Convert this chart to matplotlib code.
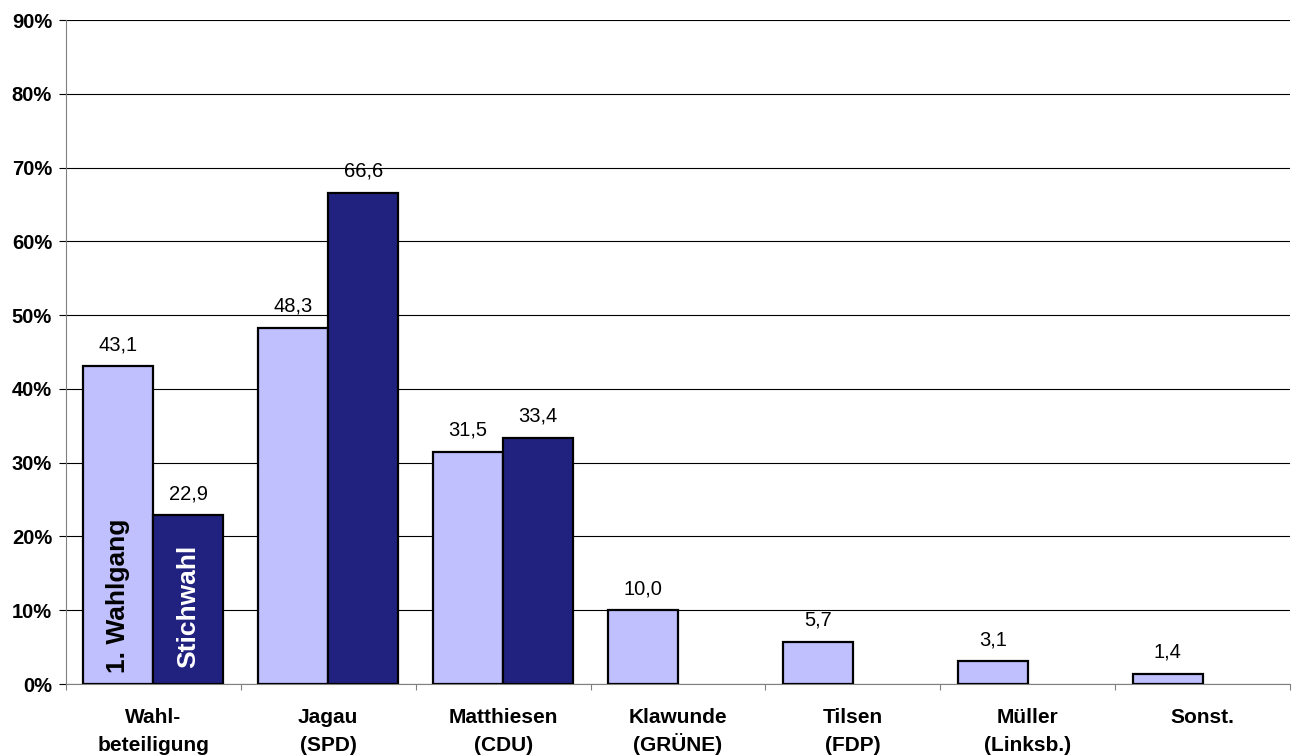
import numpy as np
import matplotlib
matplotlib.use("Agg")
import matplotlib.pyplot as plt

plt.rcParams['font.family'] = ['Liberation Sans', 'DejaVu Sans']

# data
categories = ["Wahl-\nbeteiligung", "Jagau\n(SPD)", "Matthiesen\n(CDU)", "Klawunde\n(GRÜNE)",
              "Tilsen\n(FDP)", "Müller\n(Linksb.)", "Sonst."]
wahlgang1 = [43.1, 48.3, 31.5, 10.0, 5.7, 3.1, 1.4]
stichwahl = [22.9, 66.6, 33.4, None, None, None, None]
yticks = np.arange(0, 91, 10)

light = "#C0C0FF"
dark = "#212180"

fig = plt.figure(figsize=(12.93, 7.56), dpi=100)
ax = fig.add_axes([66 / 1293, 72 / 756, (1290 - 66) / 1293, 664 / 756])

x = np.arange(len(categories))
w = 0.4

ax.bar(x - w / 2, wahlgang1, width=w, color=light, edgecolor="black", linewidth=1.6, zorder=3)
sx = [xi for xi, v in zip(x, stichwahl) if v is not None]
sv = [v for v in stichwahl if v is not None]
ax.bar(np.array(sx) + w / 2, sv, width=w, color=dark, edgecolor="black", linewidth=1.6, zorder=3)

def fmt(v):
    return f"{v:.1f}".replace(".", ",")

for xi, v in zip(x, wahlgang1):
    ax.annotate(fmt(v), (xi - w / 2, v), xytext=(0, 11.5), textcoords="offset points",
                ha="center", va="baseline", fontsize=14.5)
for xi, v in zip(sx, sv):
    ax.annotate(fmt(v), (xi + w / 2, v), xytext=(0, 11.5), textcoords="offset points",
                ha="center", va="baseline", fontsize=14.5)

# series names inside first bars
ax.text(0 - w / 2, 1.5, "1. Wahlgang", rotation=90, ha="center", va="bottom",
        fontsize=19, fontweight="bold", color="black", zorder=4)
ax.text(0 + w / 2, 2.2, "Stichwahl", rotation=90, ha="center", va="bottom",
        fontsize=19, fontweight="bold", color="white", zorder=4)

# category labels, one text per line so line spacing stays even
for xi, cat in zip(x, categories):
    for k, line in enumerate(cat.split("\n")):
        ax.annotate(line, (xi, 0), xycoords=("data", "axes fraction"),
                    xytext=(0, -28 - 20.2 * k), textcoords="offset points",
                    ha="center", va="baseline", fontsize=15, fontweight="bold",
                    annotation_clip=False)

ax.set_xlim(-0.5, len(categories) - 0.5)
ax.set_ylim(0, 90)
ax.set_yticks(yticks)
ax.set_yticklabels([f"{t}%" for t in yticks], fontsize=14.5, fontweight="bold")
ax.set_xticks([])
ax.set_xticks(np.arange(-0.5, len(categories)), minor=True)
ax.tick_params(axis="x", which="minor", length=4.5, color="#808080", width=0.8,
               labelbottom=False)
ax.tick_params(axis="y", length=5, width=0.8, color="black", pad=5)

ax.grid(axis="y", color="black", linewidth=0.8, zorder=0)
ax.set_axisbelow(True)
for s in ["top", "right"]:
    ax.spines[s].set_visible(False)
ax.spines["left"].set_color("#808080")
ax.spines["bottom"].set_color("#808080")
ax.spines["left"].set_linewidth(0.8)
ax.spines["bottom"].set_linewidth(0.8)

fig.savefig("out.png", dpi=100)
